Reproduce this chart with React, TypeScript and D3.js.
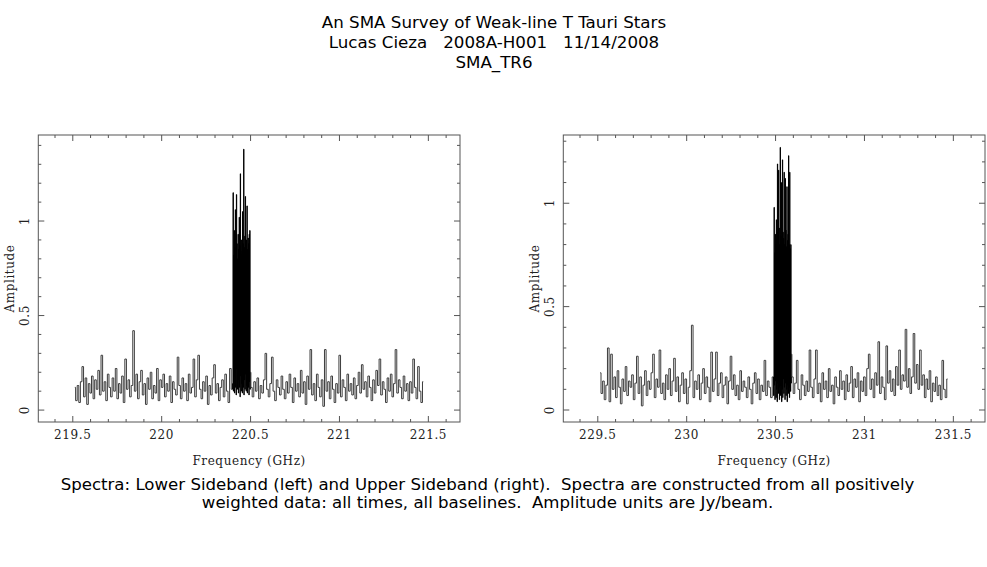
import React from "react";
import * as d3 from "d3";

const TITLE_LINES = [
  "An SMA Survey of Weak-line T Tauri Stars",
  "Lucas Cieza   2008A-H001   11/14/2008",
  "SMA_TR6",
];
const CAPTION_LINES = [
  "Spectra: Lower Sideband (left) and Upper Sideband (right).  Spectra are constructed from all positively",
  "weighted data: all times, all baselines.  Amplitude units are Jy/beam.",
];
const X_LABEL = "Frequency (GHz)";
const Y_LABEL = "Amplitude";

const LSB_TICKS = [219.5, 220, 220.5, 221, 221.5];
const LSB_TICK_LABELS = ["219.5", "220", "220.5", "221", "221.5"];
const USB_TICKS = [229.5, 230, 230.5, 231, 231.5];
const USB_TICK_LABELS = ["229.5", "230", "230.5", "231", "231.5"];
const Y_TICKS = [0, 0.5, 1];
const Y_TICK_LABELS = ["0", "0.5", "1"];

// Lower sideband segments: [start GHz, end GHz] + amplitudes (Jy/beam)
const LSB_LOW_RANGE = [219.507, 220.4];
const LSB_LOW = [
  0.12, 0.05, 0.13, 0.04, 0.15, 0.23, 0.07, 0.17, 0.03, 0.14,
  0.09, 0.18, 0.06, 0.16, 0.11, 0.21, 0.08, 0.29, 0.1, 0.15,
  0.05, 0.19, 0.12, 0.07, 0.17, 0.1, 0.22, 0.06, 0.14, 0.09,
  0.18, 0.04, 0.27, 0.11, 0.16, 0.07, 0.13, 0.42, 0.1, 0.19,
  0.06, 0.15, 0.21, 0.08, 0.14, 0.03, 0.17, 0.11, 0.2, 0.06,
  0.13, 0.09, 0.22, 0.05, 0.16, 0.12, 0.19, 0.07, 0.14, 0.1,
  0.18, 0.04, 0.15, 0.11, 0.08, 0.28, 0.13, 0.06, 0.17, 0.1,
  0.14, 0.05, 0.19, 0.09, 0.12, 0.27, 0.07, 0.16, 0.29, 0.11,
  0.06, 0.15, 0.1, 0.18, 0.03, 0.13, 0.08, 0.17, 0.24, 0.09,
  0.14, 0.05, 0.12, 0.16, 0.07, 0.19, 0.1, 0.04, 0.22, 0.11,
];
const LSB_LINE_RANGE = [220.4, 220.5];
const LSB_LINE = [
  0.14, 1.15, 0.1, 0.82, 0.18, 0.95, 0.09, 0.86, 0.2, 1.06,
  0.12, 0.84, 0.08, 1.14, 0.22, 0.88, 0.11, 0.8, 0.16, 0.93,
  0.09, 0.85, 0.25, 1.02, 0.12, 0.87, 0.07, 1.25, 0.18, 0.84,
  0.1, 0.9, 0.14, 0.82, 0.09, 1.05, 0.2, 0.88, 0.12, 1.38,
  0.08, 0.86, 0.16, 0.92, 0.11, 1.13, 0.19, 0.87, 0.1, 0.9,
  0.13, 1.08, 0.09, 0.85, 0.17, 0.91, 0.12, 0.88, 0.08, 0.93,
  0.15, 0.95, 0.11, 0.2,
];
const LSB_HIGH_RANGE = [220.5, 221.476];
const LSB_HIGH = [
  0.12, 0.07, 0.15, 0.1, 0.17, 0.06, 0.13, 0.09, 0.16, 0.3,
  0.11, 0.07, 0.14, 0.28, 0.1, 0.05, 0.16, 0.12, 0.08, 0.18,
  0.11, 0.06, 0.15, 0.09, 0.19, 0.12, 0.04, 0.17, 0.1, 0.14,
  0.07, 0.21, 0.09, 0.15, 0.03, 0.18, 0.11, 0.32, 0.08, 0.14,
  0.05, 0.19, 0.12, 0.07, 0.16, 0.02, 0.32, 0.1, 0.15, 0.06,
  0.18, 0.11, 0.04, 0.14, 0.09, 0.29, 0.07, 0.16, 0.12, 0.05,
  0.19, 0.1, 0.14, 0.08, 0.17, 0.06, 0.13, 0.2, 0.09, 0.24,
  0.11, 0.15, 0.07, 0.18, 0.12, 0.05, 0.16, 0.09, 0.21, 0.13,
  0.27, 0.08, 0.15, 0.11, 0.04, 0.17, 0.1, 0.19, 0.07, 0.14,
  0.32, 0.09, 0.16, 0.12, 0.06, 0.18, 0.1, 0.14, 0.05, 0.15,
  0.09, 0.27, 0.12, 0.06, 0.23, 0.1, 0.04, 0.15,
];

// Upper sideband segments
const USB_LOW_RANGE = [229.509, 230.49];
const USB_LOW = [
  0.18, 0.08, 0.14, 0.05, 0.12, 0.3, 0.04, 0.27, 0.1, 0.16,
  0.06, 0.19, 0.11, 0.03, 0.15, 0.09, 0.21, 0.07, 0.14, 0.11,
  0.17, 0.05, 0.13, 0.26, 0.08, 0.16, 0.02, 0.12, 0.19, 0.07,
  0.14, 0.1, 0.18, 0.27, 0.06, 0.15, 0.11, 0.29, 0.08, 0.13,
  0.05, 0.17, 0.1, 0.2, 0.07, 0.14, 0.25, 0.09, 0.16, 0.04,
  0.12, 0.18, 0.08, 0.15, 0.03, 0.11, 0.19, 0.41, 0.06, 0.14,
  0.1, 0.17, 0.05, 0.13, 0.2, 0.08, 0.16, 0.11, 0.04, 0.28,
  0.09, 0.15, 0.28, 0.07, 0.13, 0.18, 0.06, 0.12, 0.16, 0.03,
  0.14, 0.26, 0.1, 0.17, 0.07, 0.12, 0.05, 0.19, 0.09, 0.14,
  0.11, 0.06, 0.16, 0.1, 0.03, 0.13, 0.18, 0.08, 0.15, 0.05,
  0.12, 0.09, 0.24, 0.07, 0.14, 0.11, 0.06, 0.16,
];
const USB_LINE_RANGE = [230.49, 230.59];
const USB_LINE = [
  0.07, 0.98, 0.12, 0.76, 0.05, 0.85, 0.14, 0.8, 0.06, 0.92,
  0.1, 0.82, 0.04, 1.19, 0.13, 0.86, 0.08, 1.16, 0.11, 0.88,
  0.05, 0.8, 0.14, 1.27, 0.07, 0.84, 0.12, 1.1, 0.04, 0.79,
  0.1, 1.21, 0.06, 0.86, 0.15, 0.83, 0.08, 1.15, 0.11, 0.8,
  0.05, 1.12, 0.13, 0.87, 0.07, 0.79, 0.1, 1.08, 0.04, 0.82,
  0.12, 0.85, 0.08, 1.23, 0.14, 0.8, 0.06, 1.15, 0.11, 0.78,
  0.09, 0.8, 0.13, 0.27,
];
const USB_HIGH_RANGE = [230.59, 231.472];
const USB_HIGH = [
  0.16, 0.08, 0.13, 0.24, 0.1, 0.05, 0.17, 0.12, 0.07, 0.14,
  0.09, 0.29, 0.11, 0.06, 0.15, 0.29, 0.08, 0.13, 0.04, 0.18,
  0.1, 0.14, 0.06, 0.2, 0.09, 0.12, 0.03, 0.16, 0.11, 0.07,
  0.19, 0.1, 0.14, 0.05, 0.17, 0.09, 0.13, 0.21, 0.06, 0.15,
  0.11, 0.18, 0.04, 0.14, 0.09, 0.16, 0.07, 0.2, 0.27, 0.1,
  0.15, 0.06, 0.18, 0.12, 0.33, 0.08, 0.16, 0.11, 0.05, 0.31,
  0.13, 0.19, 0.09, 0.15, 0.07, 0.21, 0.12, 0.29, 0.1, 0.17,
  0.14, 0.39, 0.11, 0.2, 0.08, 0.16, 0.37, 0.13, 0.22, 0.1,
  0.29, 0.12, 0.17, 0.06, 0.15, 0.1, 0.19, 0.04, 0.13, 0.09,
  0.16, 0.07, 0.12, 0.05, 0.24, 0.1, 0.06, 0.15,
];

type Seg = { range: number[]; values: number[]; color: string };

function toPoints(s: Seg) {
  const w = (s.range[1] - s.range[0]) / s.values.length;
  return s.values.map((v, i) => [s.range[0] + (i + 0.5) * w, v] as [number, number]);
}

const SERIF = "'DejaVu Serif', serif";
const SANS = "'DejaVu Sans', sans-serif";
const PRE: React.CSSProperties = { whiteSpace: "pre" };

function Panel(props: {
  left: number;
  right: number;
  top: number;
  bottom: number;
  xDomain: number[];
  yDomain: number[];
  xTicks: number[];
  xTickLabels: string[];
  segs: Seg[];
}) {
  const { left, right, top, bottom, xDomain, yDomain, xTicks, xTickLabels, segs } = props;
  const x = d3.scaleLinear().domain(xDomain).range([left, right]);
  const y = d3.scaleLinear().domain(yDomain).range([bottom, top]);
  const line = d3
    .line<[number, number]>()
    .x((d) => x(d[0]))
    .y((d) => y(d[1]))
    .curve(d3.curveStep);
  const xMinor = d3.range(Math.ceil(xDomain[0] * 10), Math.floor(xDomain[1] * 10) + 1).map((k) => k / 10);
  const yMinor = d3.range(0, Math.floor(yDomain[1] * 10) + 1).map((k) => k / 10);
  const isMajor = (v: number) => Math.abs(v * 2 - Math.round(v * 2)) < 1e-6;
  const frameColor = "#555";
  const cy = (top + bottom) / 2;
  // join consecutive segments so the trace is continuous
  const paths = segs.map((s, k) => {
    const pts = toPoints(s);
    if (k > 0) {
      const prev = toPoints(segs[k - 1]);
      pts.unshift(prev[prev.length - 1]);
    }
    return { d: line(pts) || "", color: s.color };
  });
  return (
    <g>
      {paths.map((p, i) => (
        <path key={"p" + i} d={p.d} fill="none" stroke={p.color} strokeWidth={1} />
      ))}
      <rect x={left} y={top} width={right - left} height={bottom - top} fill="none" stroke={frameColor} strokeWidth={1} />
      {xMinor.map((v, i) => {
        const L = isMajor(v) ? 6 : 3;
        return (
          <g key={"xt" + i} stroke={frameColor} strokeWidth={1}>
            <line x1={x(v)} x2={x(v)} y1={bottom} y2={bottom - L} />
            <line x1={x(v)} x2={x(v)} y1={top} y2={top + L} />
          </g>
        );
      })}
      {yMinor.map((v, i) => {
        const L = isMajor(v) ? 6 : 3;
        return (
          <g key={"yt" + i} stroke={frameColor} strokeWidth={1}>
            <line x1={left} x2={left + L} y1={y(v)} y2={y(v)} />
            <line x1={right} x2={right - L} y1={y(v)} y2={y(v)} />
          </g>
        );
      })}
      {xTicks.map((v, i) => (
        <text
          key={"xl" + i}
          x={x(v)}
          y={bottom + 17}
          textAnchor="middle"
          fontFamily={SERIF}
          fontSize={12}
          letterSpacing={0.6}
          fill="#222"
        >
          {xTickLabels[i]}
        </text>
      ))}
      {Y_TICKS.map((v, i) => (
        <text
          key={"yl" + i}
          transform={`translate(${left - 9},${y(v)}) rotate(-90)`}
          textAnchor="middle"
          fontFamily={SERIF}
          fontSize={12}
          letterSpacing={0.6}
          fill="#222"
        >
          {Y_TICK_LABELS[i]}
        </text>
      ))}
      <text
        x={(left + right) / 2}
        y={bottom + 43}
        textAnchor="middle"
        fontFamily={SERIF}
        fontSize={12}
        letterSpacing={0.6}
        fill="#222"
      >
        {X_LABEL}
      </text>
      <text
        transform={`translate(${left - 24},${cy}) rotate(-90)`}
        textAnchor="middle"
        fontFamily={SERIF}
        fontSize={12}
        letterSpacing={0.6}
        fill="#222"
      >
        {Y_LABEL}
      </text>
    </g>
  );
}

const NOISE_COLOR = "#3c3c3c";
const LINE_COLOR = "#000";

export default function App() {
  return (
    <svg
      width={987}
      height={567}
      style={{ position: "absolute", left: 0, top: 0, background: "#fff" }}
    >
      <rect x={0} y={0} width={987} height={567} fill="#fff" />
      {TITLE_LINES.map((t, i) => (
        <text
          key={"t" + i}
          x={494}
          y={28 + i * 20}
          textAnchor="middle"
          fontFamily={SANS}
          fontSize={16.7}
          fill="#000"
          xmlSpace="preserve"
          style={PRE}
        >
          {t}
        </text>
      ))}
      <Panel
        left={38.3}
        right={460}
        top={135}
        bottom={422}
        xDomain={[219.306, 221.678]}
        yDomain={[-0.063, 1.455]}
        xTicks={LSB_TICKS}
        xTickLabels={LSB_TICK_LABELS}
        segs={[
          { range: LSB_LOW_RANGE, values: LSB_LOW, color: NOISE_COLOR },
          { range: LSB_LINE_RANGE, values: LSB_LINE, color: LINE_COLOR },
          { range: LSB_HIGH_RANGE, values: LSB_HIGH, color: NOISE_COLOR },
        ]}
      />
      <Panel
        left={563.3}
        right={985}
        top={135}
        bottom={422}
        xDomain={[229.306, 231.678]}
        yDomain={[-0.058, 1.33]}
        xTicks={USB_TICKS}
        xTickLabels={USB_TICK_LABELS}
        segs={[
          { range: USB_LOW_RANGE, values: USB_LOW, color: NOISE_COLOR },
          { range: USB_LINE_RANGE, values: USB_LINE, color: LINE_COLOR },
          { range: USB_HIGH_RANGE, values: USB_HIGH, color: NOISE_COLOR },
        ]}
      />
      {CAPTION_LINES.map((t, i) => (
        <text
          key={"c" + i}
          x={487.5}
          y={490 + i * 18}
          textAnchor="middle"
          fontFamily={SANS}
          fontSize={16.6}
          fill="#000"
          xmlSpace="preserve"
          style={PRE}
        >
          {t}
        </text>
      ))}
    </svg>
  );
}
